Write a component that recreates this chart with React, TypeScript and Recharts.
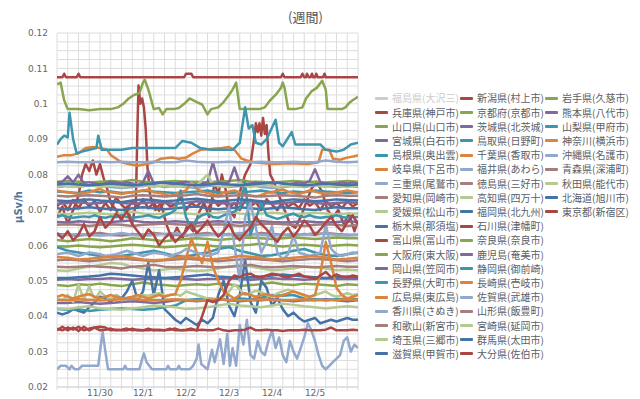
import React from 'react';
import { LineChart, Line, XAxis, YAxis, CartesianGrid } from 'recharts';

type Pt = [number, number];

// ---------- axis labels ----------
const dayLabels = ['11/30', '12/1', '12/2', '12/3', '12/4', '12/5'];
const yMajorTicks = [0.02, 0.03, 0.04, 0.05, 0.06, 0.07, 0.08, 0.09, 0.1, 0.11, 0.12];
const titleText = '(週間)';
const unitText = 'μSv/h';

// ---------- series values (μSv/h) ----------
// explicit [hour, value] readings
const niigata: Pt[] = [[0,.1075],[3,.1075],[4,.1085],[5,.1075],[11,.1075],[12,.1085],[13,.1075],[71,.1075],[72,.1085],[75,.1085],[76,.1075],[125,.1075],[126,.1085],[127,.1075],[136,.1075],[137,.1085],[138,.1075],[139,.1075],[139.5,.1085],[140.5,.1075],[141.5,.1075],[142.3,.1085],[143,.1075],[144,.1075],[144.7,.1085],[145.5,.1075],[148.5,.1075],[149.3,.1085],[150,.1075],[168,.1075]];
const iwate: Pt[] = [[0,.1055],[2,.106],[4,.101],[6,.0985],[12,.0985],[18,.0982],[24,.0985],[30,.0985],[34,.099],[37,.1],[40,.1015],[43,.1025],[46,.103],[48,.106],[49,.1068],[51,.104],[54,.0985],[57,.0988],[59,.097],[61,.0985],[65,.0985],[68,.0988],[71,.1],[74,.1015],[78,.1005],[81,.0998],[84,.097],[86,.0985],[90,.099],[93,.1005],[96,.1025],[98,.104],[100,.106],[102,.0985],[108,.0985],[113,.0985],[116,.099],[119,.101],[122,.1025],[125,.1045],[126,.106],[127,.1045],[129,.0985],[133,.0985],[137,.099],[139,.1015],[142,.1035],[145,.1045],[148,.1065],[150,.104],[151,.0985],[155,.0985],[159,.0985],[161,.099],[163,.1002],[165,.101],[168,.102]];
const yamanashi: Pt[] = [[0,.0885],[2,.09],[4,.091],[6,.0905],[7,.0975],[9,.09],[11,.086],[14,.0865],[18,.087],[22,.0875],[23,.091],[25,.087],[30,.087],[36,.087],[42,.0875],[48,.0875],[54,.0875],[60,.0875],[66,.0875],[70,.0895],[75,.089],[80,.0875],[86,.087],[92,.087],[98,.087],[102,.089],[105,.099],[107,.093],[109,.094],[111,.089],[114,.0885],[117,.09],[122,.0955],[124,.089],[126,.088],[131,.092],[133,.0885],[140,.0885],[147,.0885],[150,.087],[156,.0865],[160,.087],[164,.0885],[168,.089]];
const gifu: Pt[] = [[0,.085],[4,.0855],[8,.0855],[12,.086],[16,.0875],[20,.0878],[24,.0875],[28,.087],[30,.0855],[33,.0845],[36,.0835],[40,.083],[45,.0825],[50,.083],[54,.0835],[58,.0845],[64,.0848],[68,.0845],[72,.0848],[76,.086],[80,.087],[86,.0872],[92,.0875],[96,.0878],[99,.087],[103,.0845],[106,.084],[110,.0835],[120,.083],[130,.0832],[140,.083],[146,.0835],[148,.087],[152,.087],[154,.0845],[158,.0842],[162,.0848],[166,.0852],[168,.0855]];
const hyogo: Pt[] = [[0,.068],[3,.071],[6,.066],[9,.07],[12,.074],[14,.08],[16,.083],[18,.081],[20,.084],[22,.08],[24,.083],[26,.079],[28,.076],[30,.072],[33,.07],[36,.067],[39,.071],[42,.066],[44,.072],[45,.095],[45.5,.1052],[46.5,.1],[47.5,.1015],[48.5,.099],[49.5,.093],[50.5,.082],[52,.074],[55,.07],[58,.072],[61,.066],[64,.062],[67,.065],[70,.062],[73,.066],[76,.064],[79,.069],[82,.072],[85,.068],[88,.078],[90,.074],[92,.08],[94,.076],[96,.07],[99,.068],[102,.075],[105,.08],[108,.083],[110,.09],[111,.0945],[112,.092],[113,.0945],[114,.091],[115,.096],[116,.0915],[117,.094],[118,.086],[119,.08],[121,.078],[124,.074],[127,.07],[130,.066],[133,.065],[136,.068],[139,.072],[142,.076],[145,.078],[148,.075],[151,.07],[154,.068],[157,.07],[160,.066],[163,.069],[166,.064],[168,.067]];
const fukui: Pt[] = [[0,.025],[2,.026],[5,.026],[7,.025],[8,.026],[10,.025],[12,.025],[14,.026],[23,.026],[24,.03],[25.5,.0355],[27,.03],[28.5,.025],[37,.025],[38,.026],[39,.025],[46,.025],[47,.027],[48.5,.0295],[50,.027],[53,.025],[61,.025],[62,.026],[63,.025],[67,.025],[68,.026],[69,.025],[74,.025],[76,.026],[78,.028],[79,.032],[80.5,.0265],[84,.025],[86.5,.0305],[88,.027],[91,.0335],[93,.0265],[95,.035],[96.5,.026],[98,.031],[100,.026],[102,.0375],[104,.032],[106,.039],[108,.029],[110,.028],[112,.033],[114,.03],[116,.029],[118,.033],[120,.036],[122,.031],[124,.034],[126,.029],[128,.027],[130,.033],[132,.03],[134,.028],[136,.031],[138,.034],[140,.038],[142,.036],[144,.033],[146,.029],[148,.026],[150,.025],[152,.026],[154,.027],[156,.028],[158,.029],[160,.033],[162,.034],[164,.03],[166,.032],[168,.031]];

// evenly spaced readings over the week (every 3 h: 57 values, every 6 h: 29 values)
const toyama = [.071,.0725,.07,.0728,.0705,.073,.071,.0725,.0695,.072,.07,.0735,.0715,.07,.0725,.071,.073,.0705,.072,.0698,.0725,.071,.0715,.0735,.07,.072,.071,.0725,.07,.073,.0712,.0725,.0705,.072,.07,.0728,.071,.0722,.07,.073,.0715,.07,.0725,.071,.072,.0705,.073,.0712,.0722,.07,.0725,.071,.072,.0705,.0725,.071,.072];
const hiroshima = [.0755,.0752,.075,.0748,.0745,.0748,.075,.0755,.076,.0752,.075,.0748,.0745,.0748,.075,.0752,.0755,.0758,.075,.0748,.0745,.074,.0745,.075,.0755,.0778,.076,.0752,.0748,.0745,.0742,.0748,.0752,.0755,.075,.0745,.074,.0738,.0742,.0748,.075,.0755,.0758,.0752,.0748,.0745,.075,.0755,.0752,.0748,.0745,.0748,.075,.0752,.0755,.0752,.075];
const saitama = [.045,.0445,.046,.044,.049,.0445,.0485,.0445,.047,.0455,.0448,.046,.0445,.045,.0448,.0455,.046,.0458,.0462,.0465,.0458,.046,.0462,.0458,.047,.0465,.046,.0455,.045,.0448,.0445,.0455,.047,.049,.0475,.046,.0465,.0472,.0468,.046,.0455,.0465,.047,.0475,.047,.0465,.0458,.0455,.046,.0465,.047,.046,.0455,.046,.0465,.046,.0462];
const tochigi = [.041,.0405,.041,.042,.0415,.041,.0425,.044,.0455,.045,.044,.046,.045,.047,.05,.0445,.047,.055,.046,.053,.042,.0405,.039,.038,.0395,.0385,.0375,.039,.038,.0395,.046,.05,.043,.04,.046,.056,.044,.041,.05,.048,.043,.045,.042,.04,.041,.0395,.0385,.039,.0395,.038,.0385,.039,.0385,.039,.0395,.039,.039];
const ishikawa = [.036,.037,.036,.0368,.0358,.037,.036,.0368,.037,.0368,.036,.0362,.036,.036,.0365,.036,.036,.036,.0362,.036,.036,.0365,.036,.036,.036,.0362,.036,.0362,.036,.036,.0365,.036,.0358,.036,.036,.0362,.0368,.036,.036,.0362,.036,.036,.0358,.036,.036,.036,.0362,.036,.036,.036,.0362,.0368,.036,.036,.036,.0362,.036];
const shizuoka = [.068,.0685,.068,.0678,.068,.0682,.068,.0685,.068,.0678,.0682,.068,.0685,.068,.0678,.068,.0682,.0685,.068,.0678,.0685,.069,.07,.0755,.068,.065,.0675,.0685,.069,.068,.0678,.0685,.069,.0695,.0705,.078,.063,.0675,.072,.0685,.068,.0675,.068,.0685,.069,.0682,.068,.0685,.068,.0678,.068,.0682,.0685,.068,.0678,.068,.068];
const nagasaki = [.0455,.046,.0455,.045,.0455,.046,.0462,.0455,.045,.0455,.046,.0455,.045,.0452,.0455,.046,.0455,.045,.0455,.046,.0455,.046,.0462,.05,.056,.062,.058,.055,.061,.054,.05,.047,.046,.045,.046,.0465,.046,.0455,.046,.0462,.0458,.0455,.046,.0465,.047,.0465,.046,.0455,.046,.052,.061,.055,.048,.046,.045,.0455,.046];
const saga = [.0575,.0578,.058,.0575,.057,.0575,.058,.0578,.0575,.057,.0572,.0575,.058,.0585,.058,.0575,.057,.0575,.058,.0578,.0575,.057,.0575,.058,.059,.0585,.058,.0575,.057,.0575,.058,.064,.071,.06,.05,.068,.072,.065,.058,.061,.0655,.058,.056,.0575,.063,.058,.0575,.057,.0575,.058,.066,.059,.0575,.057,.0575,.058,.0578];
const oita = [.0365,.036,.0368,.0362,.037,.036,.0365,.0368,.036,.0362,.0365,.036,.0362,.0365,.036,.0362,.036,.0365,.036,.0362,.036,.0362,.0365,.036,.0362,.0365,.036,.04,.0445,.044,.0445,.046,.05,.0515,.051,.0518,.052,.0512,.051,.0515,.052,.0518,.0512,.051,.0515,.052,.0512,.051,.0505,.0515,.0525,.051,.0518,.0512,.051,.0515,.0512];
const kumamoto = [.0778,.078,.0795,.0778,.08,.0775,.0778,.0775,.0772,.0775,.078,.0778,.0775,.0778,.0775,.0772,.0778,.081,.0775,.0778,.0775,.0772,.0775,.0778,.078,.0775,.0772,.0775,.0778,.0835,.0778,.0775,.0778,.082,.0775,.0772,.0775,.0778,.0775,.0772,.0775,.0778,.0775,.0772,.0775,.0778,.0775,.0782,.0815,.0778,.0775,.0772,.0775,.0778,.0775,.0778,.0775];
const akita = [.0768,.077,.0768,.0765,.0768,.077,.0772,.0768,.0765,.0768,.077,.0768,.0765,.0768,.077,.0772,.077,.0768,.0765,.0768,.077,.0768,.0765,.0768,.077,.0775,.0768,.0785,.08,.0772,.0768,.0765,.0768,.077,.0778,.0768,.0765,.0768,.077,.0772,.0768,.0765,.0768,.077,.0768,.0765,.0768,.077,.0772,.0768,.0765,.0768,.077,.0768,.0765,.0768,.077];
const tokyo = [.0635,.062,.064,.0615,.063,.066,.0625,.064,.068,.065,.0665,.069,.0675,.0695,.066,.064,.062,.0645,.063,.06,.062,.0635,.061,.0625,.064,.066,.0635,.065,.067,.0645,.0625,.064,.066,.063,.0615,.0635,.065,.068,.066,.0645,.0625,.061,.0635,.065,.0625,.0645,.067,.0655,.063,.0645,.0665,.068,.0655,.064,.0665,.0685,.066];

const yamaguchi = [.0488,.0485,.049,.0488,.0492,.0488,.0485,.049,.0495,.049,.0488,.0485,.0488,.049,.0488,.0492,.049,.0485,.0488,.049,.0495,.049,.0488,.0492,.049,.0488,.0485,.049,.0488];
const miyagi = [.0503,.0505,.0503,.0505,.0505,.0507,.0505,.0503,.0505,.0505,.0507,.0505,.0505,.0503,.0505,.0505,.0507,.0505,.0503,.0505,.0507,.0505,.0505,.0503,.0505,.0507,.0505,.0505,.0505];
const shimane = [.0752,.075,.0748,.0755,.075,.0752,.0748,.075,.0755,.0752,.075,.0748,.075,.0752,.0755,.075,.0748,.075,.0752,.0755,.075,.0748,.0752,.075,.0755,.0752,.075,.0748,.075];
const mie = [.0765,.0768,.0765,.077,.0768,.0765,.0762,.0765,.0768,.077,.0765,.0768,.0765,.0762,.0768,.077,.0765,.0768,.077,.0765,.0762,.0765,.0768,.0765,.077,.0768,.0765,.0768,.0765];
const aichi = [.0632,.063,.0628,.0632,.0635,.063,.0628,.0632,.063,.0635,.0632,.063,.0628,.0632,.0635,.063,.0632,.0628,.063,.0635,.0632,.063,.0628,.0632,.063,.0635,.0632,.063,.063];
const ehime = [.053,.0528,.0535,.054,.0545,.055,.0548,.054,.0535,.053,.0532,.0535,.053,.0528,.053,.0535,.054,.0545,.054,.0535,.053,.0532,.0535,.054,.0538,.0535,.053,.0532,.053];
const osaka = [.078,.0782,.078,.0778,.078,.0782,.078,.0785,.078,.0778,.078,.0782,.078,.078,.0778,.078,.0782,.0785,.078,.078,.0778,.078,.0782,.078,.078,.0778,.078,.0782,.078];
const okayama = [.0437,.0437,.044,.0437,.0435,.0437,.044,.0442,.044,.0437,.044,.0445,.0445,.0442,.0445,.0448,.0445,.0442,.0445,.0445,.0448,.0445,.0442,.0445,.0445,.0448,.0445,.0442,.0445];
const nagano = [.042,.0418,.042,.0415,.0418,.042,.0422,.042,.0418,.042,.0425,.043,.0445,.0448,.045,.0448,.0445,.045,.0448,.0452,.046,.0458,.046,.045,.0448,.0445,.0448,.045,.0448];
const kagawa = [.0628,.063,.0632,.063,.0628,.063,.0635,.063,.0628,.063,.0632,.0635,.063,.0628,.063,.0632,.063,.0635,.0632,.063,.0628,.063,.0632,.063,.0635,.0632,.063,.0628,.063];
const wakayama = [.054,.0538,.054,.0542,.054,.0538,.0535,.054,.0542,.0545,.054,.0538,.054,.0542,.054,.0538,.054,.0542,.0545,.054,.0538,.054,.0542,.054,.0538,.054,.0542,.054,.054];
const shiga = [.0705,.0702,.0705,.0708,.0705,.0702,.07,.0705,.0708,.0705,.0702,.0705,.0708,.071,.0705,.0702,.0705,.0708,.0705,.0702,.0705,.0708,.0705,.0702,.07,.0705,.0708,.0705,.0705];
const kyoto = [.0597,.0597,.06,.0597,.0595,.0597,.06,.0602,.06,.0597,.0595,.0597,.06,.0602,.06,.0597,.0597,.06,.0602,.0605,.06,.0597,.06,.0602,.06,.0597,.06,.0602,.06];
const ibaraki = [.0666,.0665,.0668,.0666,.0665,.0666,.0668,.067,.0666,.0665,.0666,.0668,.0666,.0664,.0666,.0668,.0666,.0665,.0666,.0668,.0666,.0665,.0666,.0668,.0666,.0665,.0666,.0668,.0666];
const tottori = [.0595,.0585,.058,.0575,.057,.0568,.057,.0575,.058,.0585,.0578,.057,.0568,.0575,.058,.059,.0595,.0585,.0578,.057,.0572,.0578,.0585,.059,.058,.0572,.057,.0575,.058];
const chiba = [.0446,.0445,.0448,.0446,.0444,.0446,.0448,.045,.0446,.0445,.0446,.0448,.0446,.0444,.0446,.0448,.0446,.0445,.0446,.0448,.0446,.0445,.0446,.0448,.0446,.0445,.0446,.0448,.0446];
const tokushima = [.0558,.056,.0558,.0555,.0558,.056,.0562,.056,.0558,.0555,.0558,.056,.0562,.056,.0558,.0555,.0558,.056,.0562,.056,.0558,.0555,.0558,.056,.0562,.056,.0558,.0555,.0558];
const kochi = [.069,.0688,.069,.0692,.069,.0688,.069,.0695,.069,.0688,.069,.0692,.069,.0688,.069,.0692,.0695,.069,.0688,.069,.0692,.069,.0688,.069,.0692,.069,.0688,.069,.069];
const fukuoka = [.0508,.0508,.051,.0512,.0515,.052,.0518,.0515,.0512,.051,.0508,.051,.0512,.0515,.0518,.0512,.051,.0508,.051,.0512,.0515,.0518,.0515,.0512,.051,.0508,.051,.0512,.051];
const nara = [.0615,.0612,.0615,.0618,.0615,.0612,.0615,.062,.0618,.0615,.0612,.0615,.0618,.062,.0618,.0615,.0618,.062,.0622,.062,.0618,.062,.0622,.062,.0618,.062,.0622,.062,.062];
const kagoshima = [.0718,.072,.0722,.0718,.072,.0725,.072,.0718,.072,.0722,.072,.0718,.072,.0725,.0722,.072,.0718,.072,.0722,.072,.0718,.072,.0722,.0725,.072,.0718,.072,.0722,.072];
const yamagata = [.0658,.066,.0658,.0655,.0658,.066,.0658,.0655,.0658,.066,.0662,.066,.0658,.0655,.0658,.066,.0658,.0655,.0658,.066,.0662,.066,.0658,.0655,.0658,.066,.0658,.0655,.0658];
const miyazaki = [.0422,.042,.0425,.0428,.0422,.042,.0418,.0422,.0425,.043,.0428,.0425,.042,.0422,.0425,.043,.0435,.043,.0428,.0425,.043,.0435,.0432,.0428,.0425,.0422,.0425,.0428,.0425];
const gunma = [.0727,.0725,.0728,.073,.0727,.0725,.0722,.0727,.073,.0728,.0725,.0727,.073,.0732,.0728,.0725,.0727,.073,.0728,.0725,.0722,.0727,.073,.0728,.0725,.0727,.073,.0728,.0727];
const kanagawa = [.0567,.0565,.056,.0562,.0565,.0568,.057,.0565,.056,.0558,.056,.0565,.0568,.0565,.056,.0562,.0565,.057,.0568,.0565,.056,.0562,.0565,.0568,.057,.0565,.056,.0562,.0565];
const okinawa = [.0835,.0836,.0835,.0835,.0836,.0835,.0836,.0835,.0835,.0836,.0835,.0835,.084,.0836,.0835,.0835,.0836,.0835,.0835,.0836,.0835,.0835,.0836,.0835,.0835,.084,.0836,.0835,.0836];
const aomori = [.074,.0738,.074,.0742,.074,.0738,.0735,.074,.0742,.074,.0738,.074,.0742,.0745,.074,.0738,.074,.0742,.074,.0738,.074,.0742,.074,.0738,.0735,.074,.0742,.074,.074];
const hokkaido = [.0772,.0775,.0772,.077,.0772,.0775,.0772,.077,.0772,.0775,.0778,.0775,.0772,.077,.0772,.0775,.0772,.077,.0772,.0775,.0778,.0775,.0772,.077,.0772,.0775,.0772,.077,.0772];

// ---------- styling ----------
const PAL = {
  blue: '#4572A7', red: '#AA4643', green: '#89A54E', purple: '#80699B', teal: '#3D96AE',
  orange: '#DB843D', lblue: '#92A8CD', mauve: '#A47D7C', lgreen: '#B5CA92',
};
const WEEK_HOURS = 168;

type Row = { h: number; v: number };
const fromPairs = (p: Pt[]): Row[] => p.map(([h, v]) => ({ h, v }));
const fromGrid = (vals: number[]): Row[] => vals.map((v, i) => ({ h: (i * WEEK_HOURS) / (vals.length - 1), v }));

type S = { name: string; color: string; data: Row[]; hidden?: boolean };
const series: S[] = [
  { name: '福島県(大沢三)', color: PAL.blue, data: [], hidden: true },
  { name: '兵庫県(神戸市)', color: PAL.red, data: fromPairs(hyogo) },
  { name: '山口県(山口市)', color: PAL.green, data: fromGrid(yamaguchi) },
  { name: '宮城県(白石市)', color: PAL.purple, data: fromGrid(miyagi) },
  { name: '島根県(奥出雲)', color: PAL.teal, data: fromGrid(shimane) },
  { name: '岐阜県(下呂市)', color: PAL.orange, data: fromPairs(gifu) },
  { name: '三重県(尾鷲市)', color: PAL.lblue, data: fromGrid(mie) },
  { name: '愛知県(岡崎市)', color: PAL.mauve, data: fromGrid(aichi) },
  { name: '愛媛県(松山市)', color: PAL.lgreen, data: fromGrid(ehime) },
  { name: '栃木県(那須塩)', color: PAL.blue, data: fromGrid(tochigi) },
  { name: '富山県(富山市)', color: PAL.red, data: fromGrid(toyama) },
  { name: '大阪府(東大阪)', color: PAL.green, data: fromGrid(osaka) },
  { name: '岡山県(笠岡市)', color: PAL.purple, data: fromGrid(okayama) },
  { name: '長野県(大町市)', color: PAL.teal, data: fromGrid(nagano) },
  { name: '広島県(東広島)', color: PAL.orange, data: fromGrid(hiroshima) },
  { name: '香川県(さぬき)', color: PAL.lblue, data: fromGrid(kagawa) },
  { name: '和歌山(新宮市)', color: PAL.mauve, data: fromGrid(wakayama) },
  { name: '埼玉県(三郷市)', color: PAL.lgreen, data: fromGrid(saitama) },
  { name: '滋賀県(甲賀市)', color: PAL.blue, data: fromGrid(shiga) },
  { name: '新潟県(村上市)', color: PAL.red, data: fromPairs(niigata) },
  { name: '京都府(京都市)', color: PAL.green, data: fromGrid(kyoto) },
  { name: '茨城県(北茨城)', color: PAL.purple, data: fromGrid(ibaraki) },
  { name: '鳥取県(日野町)', color: PAL.teal, data: fromGrid(tottori) },
  { name: '千葉県(香取市)', color: PAL.orange, data: fromGrid(chiba) },
  { name: '福井県(あわら)', color: PAL.lblue, data: fromPairs(fukui) },
  { name: '徳島県(三好市)', color: PAL.mauve, data: fromGrid(tokushima) },
  { name: '高知県(四万十)', color: PAL.lgreen, data: fromGrid(kochi) },
  { name: '福岡県(北九州)', color: PAL.blue, data: fromGrid(fukuoka) },
  { name: '石川県(津幡町)', color: PAL.red, data: fromGrid(ishikawa) },
  { name: '奈良県(奈良市)', color: PAL.green, data: fromGrid(nara) },
  { name: '鹿児島(奄美市)', color: PAL.purple, data: fromGrid(kagoshima) },
  { name: '静岡県(御前崎)', color: PAL.teal, data: fromGrid(shizuoka) },
  { name: '長崎県(壱岐市)', color: PAL.orange, data: fromGrid(nagasaki) },
  { name: '佐賀県(武雄市)', color: PAL.lblue, data: fromGrid(saga) },
  { name: '山形県(飯豊町)', color: PAL.mauve, data: fromGrid(yamagata) },
  { name: '宮崎県(延岡市)', color: PAL.lgreen, data: fromGrid(miyazaki) },
  { name: '群馬県(太田市)', color: PAL.blue, data: fromGrid(gunma) },
  { name: '大分県(佐伯市)', color: PAL.red, data: fromGrid(oita) },
  { name: '岩手県(久慈市)', color: PAL.green, data: fromPairs(iwate) },
  { name: '熊本県(八代市)', color: PAL.purple, data: fromGrid(kumamoto) },
  { name: '山梨県(甲府市)', color: PAL.teal, data: fromPairs(yamanashi) },
  { name: '神奈川(横浜市)', color: PAL.orange, data: fromGrid(kanagawa) },
  { name: '沖縄県(名護市)', color: PAL.lblue, data: fromGrid(okinawa) },
  { name: '青森県(深浦町)', color: PAL.mauve, data: fromGrid(aomori) },
  { name: '秋田県(能代市)', color: PAL.lgreen, data: fromGrid(akita) },
  { name: '北海道(旭川市)', color: PAL.blue, data: fromGrid(hokkaido) },
  { name: '東京都(新宿区)', color: PAL.red, data: fromGrid(tokyo) },
];

// axis ticks: every 6 h on x, quarter steps between major y ticks
const xTicks = Array.from({ length: WEEK_HOURS / 6 + 1 }, (_, i) => i * 6);
const yTicks: number[] = [];
yMajorTicks.forEach((t, i) => {
  yTicks.push(t);
  if (i < yMajorTicks.length - 1) {
    const step = (yMajorTicks[i + 1] - t) / 4;
    for (let k = 1; k < 4; k++) yTicks.push(t + step * k);
  }
});
const isMajor = (v: number) => Math.abs(v * 100 - Math.round(v * 100)) < 1e-6;

const fmtX = (h: number) => {
  if (h % 24 !== 0) return '';
  const d = h / 24 - 1;
  return d >= 0 && d < dayLabels.length ? dayLabels[d] : '';
};
const fmtY = (v: number) => (isMajor(v) ? String(parseFloat(v.toFixed(2))) : '');

const LEGEND_PER_COL = 19;
const LegendBox = () => (
  <div style={{ position: 'absolute', left: 0, top: 0, width: 640, height: 399, pointerEvents: 'none' }}>
    {series.map((s, i) => {
      const col = Math.floor(i / LEGEND_PER_COL);
      const row = i % LEGEND_PER_COL;
      const left = 375 + col * 85;
      const top = 98.3 + row * 14.2 - 7;
      const c = s.hidden ? '#cccccc' : s.color;
      return (
        <div key={s.name} style={{ position: 'absolute', left, top, height: 14, display: 'flex', alignItems: 'center', whiteSpace: 'nowrap' }}>
          <span style={{ display: 'inline-block', width: 13, height: 3, background: c, borderRadius: 1 }} />
          <span style={{ marginLeft: 4, fontSize: 10, lineHeight: '14px', color: s.hidden ? '#cccccc' : '#5a6068', fontFamily: '"Noto Sans CJK JP", sans-serif' }}>{s.name}</span>
        </div>
      );
    })}
  </div>
);

const YLabel = (props: any) => {
  const vb = props.viewBox || { x: 0, y: 33, width: 57, height: 354 };
  const cx = vb.x + 18;
  const cy = vb.y + vb.height / 2 - 3;
  return (
    <text x={cx} y={cy} transform={`rotate(-90 ${cx} ${cy})`} textAnchor="middle" dominantBaseline="central"
      fill="#4d759e" fontSize={10} fontWeight="bold" fontFamily="DejaVu Sans">{unitText}</text>
  );
};

export default function App() {
  return (
    <div style={{ position: 'absolute', left: 0, top: 0, width: 640, height: 399, background: '#fff' }}>
      <LineChart width={640} height={399} margin={{ top: 33, right: 282, bottom: 0, left: 0 }}>
        <CartesianGrid stroke="#dcdcdc" strokeWidth={1} />
        <XAxis
          dataKey="h" type="number" domain={[0, WEEK_HOURS]} ticks={xTicks} interval={0}
          tickFormatter={fmtX} height={12} tickSize={3} tickMargin={0}
          axisLine={{ stroke: '#cfd8e2' }} tickLine={{ stroke: '#d6dde6' }}
          tick={{ fontSize: 9, fill: '#666', fontFamily: 'DejaVu Sans' }} allowDataOverflow
        />
        <YAxis
          dataKey="v" type="number" domain={[0.02, 0.12]} ticks={yTicks} interval={0}
          tickFormatter={fmtY} width={57} tickSize={0} tickMargin={9}
          axisLine={false} tickLine={false}
          tick={{ fontSize: 9, fill: '#666', fontFamily: 'DejaVu Sans' }} allowDataOverflow
          label={YLabel}
        />
        {series.filter((s) => !s.hidden).map((s) => (
          <Line key={s.name} data={s.data} dataKey="v" name={s.name} type="linear" stroke={s.color}
            strokeWidth={2.5} dot={false} activeDot={false} isAnimationActive={false} strokeLinejoin="round" />
        ))}
      </LineChart>
      <div style={{ position: 'absolute', left: 288, top: 8, fontSize: 13, color: '#555', fontFamily: '"Noto Sans CJK JP", serif', lineHeight: '18px', whiteSpace: 'nowrap' }}>
        {titleText}
      </div>
      <LegendBox />
    </div>
  );
}
